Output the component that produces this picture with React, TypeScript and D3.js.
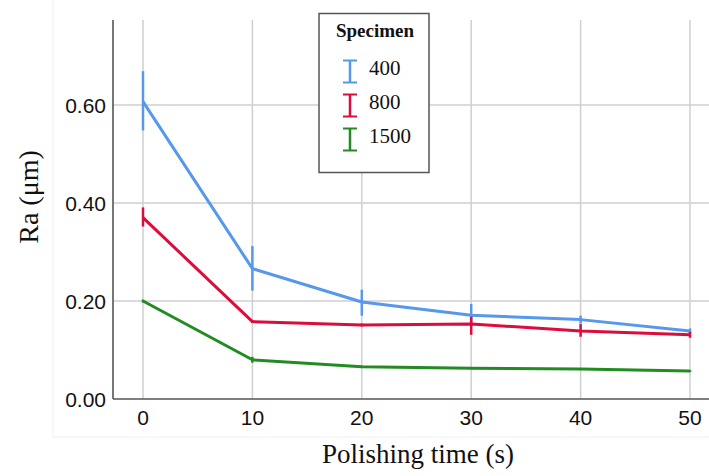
import React from 'react';
import * as d3 from 'd3';

const times = [0, 10, 20, 30, 40, 50];
const specimens = ['400', '800', '1500'];
const colors = ['#5698ec', '#dc0c3c', '#228b22'];

// mean Ra, lower / upper error bar per specimen
const mean400 = [0.607, 0.266, 0.198, 0.171, 0.162, 0.139];
const low400 = [0.548, 0.221, 0.170, 0.151, 0.154, 0.134];
const high400 = [0.669, 0.312, 0.223, 0.194, 0.170, 0.144];

const mean800 = [0.370, 0.158, 0.151, 0.153, 0.139, 0.131];
const low800 = [0.352, 0.155, 0.148, 0.131, 0.127, 0.125];
const high800 = [0.391, 0.161, 0.154, 0.168, 0.153, 0.137];

const mean1500 = [0.200, 0.080, 0.066, 0.063, 0.061, 0.057];
const low1500 = [0.197, 0.074, 0.064, 0.061, 0.059, 0.055];
const high1500 = [0.203, 0.086, 0.068, 0.065, 0.063, 0.059];

const yTicks = [0, 0.2, 0.4, 0.6];

const W = 709;
const H = 476;

const sans = 'Liberation Sans, Arial, sans-serif';
const serif = 'Liberation Serif, Times New Roman, serif';

export default function App() {
  const x = d3.scaleLinear().domain([0, 50]).range([143, 690]);
  const y = d3.scaleLinear().domain([0, 0.2]).range([399, 301]);
  const top = 20;
  const left = 113;
  const right = W;

  const series = [
    { mean: mean400, low: low400, high: high400 },
    { mean: mean800, low: low800, high: high800 },
    { mean: mean1500, low: low1500, high: high1500 },
  ];

  const line = d3
    .line<number>()
    .x((_, i) => x(times[i]))
    .y((d) => y(d));

  return (
    <svg width={W} height={H} style={{ position: 'absolute', left: 0, top: 0, background: '#fff' }}>
      <rect x={53} y={-2} width={W} height={439} fill="#fff" stroke="#f1f1f1" strokeWidth={1} />
      {/* grid */}
      {times.map((t) => (
        <line key={'gx' + t} x1={x(t)} x2={x(t)} y1={top} y2={399} stroke="#cfcfcf" strokeWidth={1.5} />
      ))}
      {yTicks.filter((v) => v > 0).map((v) => (
        <line key={'gy' + v} x1={left} x2={right} y1={y(v)} y2={y(v)} stroke="#cfcfcf" strokeWidth={1.5} />
      ))}
      {/* axes */}
      <line x1={left} x2={left} y1={top} y2={399} stroke="#555" strokeWidth={1.6} />
      <line x1={left} x2={right} y1={399} y2={399} stroke="#555" strokeWidth={1.6} />
      {yTicks.map((v) => (
        <text key={'ty' + v} x={106} y={y(v) + 7.5} textAnchor="end"
          fontFamily={sans} fontSize={21} fill="#111">
          {d3.format('.2f')(v)}
        </text>
      ))}
      {times.map((t) => (
        <text key={'tx' + t} x={x(t)} y={425} textAnchor="middle"
          fontFamily={sans} fontSize={21} fill="#111">
          {t}
        </text>
      ))}
      {/* series */}
      {series.map((s, k) => (
        <g key={'s' + k}>
          <path d={line(s.mean) || ''} fill="none" stroke={colors[k]} strokeWidth={3} strokeLinejoin="round" />
          {s.mean.map((_, i) => (
            <line key={i} x1={x(times[i])} x2={x(times[i])} y1={y(s.low[i])} y2={y(s.high[i])}
              stroke={colors[k]} strokeWidth={2.5} />
          ))}
        </g>
      ))}
      {/* legend */}
      <rect x={319} y={13.5} width={110} height={159} fill="#fff" stroke="#555" strokeWidth={1.5} />
      <text x={375} y={37} textAnchor="middle" fontFamily={serif}
        fontWeight="bold" fontSize={19} fill="#111">Specimen</text>
      {specimens.map((sp, k) => {
        const cy = 71.5 + k * 34;
        return (
          <g key={'l' + sp}>
            <line x1={350} x2={350} y1={cy - 11} y2={cy + 11} stroke={colors[k]} strokeWidth={2.5} />
            <line x1={343} x2={357} y1={cy - 11} y2={cy - 11} stroke={colors[k]} strokeWidth={2} />
            <line x1={343} x2={357} y1={cy + 11} y2={cy + 11} stroke={colors[k]} strokeWidth={2} />
            <text x={369} y={cy + 3.5} fontFamily={serif}
              fontSize={21} fill="#111">{sp}</text>
          </g>
        );
      })}
      {/* axis titles */}
      <text transform="translate(38,197) rotate(-90)" textAnchor="middle"
        fontFamily={serif} fontSize={28} fill="#111">Ra (μm)</text>
      <text x={418} y={463} textAnchor="middle"
        fontFamily={serif} fontSize={27} fill="#111">Polishing time (s)</text>
    </svg>
  );
}
